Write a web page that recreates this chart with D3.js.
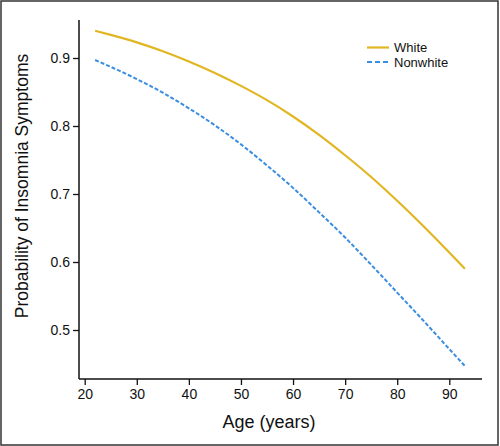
<!DOCTYPE html>
<html>
<head>
<meta charset="utf-8">
<script src="https://cdn.jsdelivr.net/npm/d3@7"></script>
<style>
html,body{margin:0;padding:0;background:#fff;}
svg{display:block;font-family:"Liberation Sans",Arial,Helvetica,sans-serif;}
</style>
</head>
<body>
<svg id="chart" width="500" height="446"></svg>
<script>
const ages = [22,25,30,35,40,45,50,55,60,65,70,75,80,85,90,93];
const whiteValues = [0.940,0.934,0.923,0.910,0.895,0.878,0.859,0.838,0.814,0.787,0.757,0.725,0.690,0.653,0.614,0.590];
const nonwhiteValues = [0.897,0.887,0.869,0.849,0.826,0.801,0.773,0.742,0.709,0.673,0.636,0.596,0.555,0.514,0.472,0.447];
const xTicks = [20,30,40,50,60,70,80,90];
const yTicks = [0.5,0.6,0.7,0.8,0.9];
const seriesNames = ["White","Nonwhite"];

const svg = d3.select("#chart");
svg.append("rect").attr("x",1).attr("y",1).attr("width",497).attr("height",444)
  .attr("fill","#fff").attr("stroke","#333").attr("stroke-width",1.5);

const x = d3.scaleLinear().domain([20,90]).range([84.7,449.3]);
const y = d3.scaleLinear().domain([0.5,0.9]).range([330,58]);
const xAxisY = 379, yAxisX = 79;

svg.append("line").attr("x1",yAxisX).attr("x2",yAxisX).attr("y1",20).attr("y2",xAxisY)
  .attr("stroke","#111").attr("stroke-width",1.5);
svg.append("line").attr("x1",yAxisX).attr("x2",482).attr("y1",xAxisY).attr("y2",xAxisY)
  .attr("stroke","#111").attr("stroke-width",1.5);

const xa = svg.append("g").attr("transform",`translate(0,${xAxisY})`)
  .call(d3.axisBottom(x).tickValues(xTicks).tickSize(6).tickPadding(4).tickFormat(d3.format("d")));
const ya = svg.append("g").attr("transform",`translate(${yAxisX},0)`)
  .call(d3.axisLeft(y).tickValues(yTicks).tickSize(6).tickPadding(3).tickFormat(d3.format(".1f")));
[xa,ya].forEach(g=>{
  g.select(".domain").remove();
  g.selectAll(".tick line").attr("stroke","#111").attr("stroke-width",1.3);
  g.selectAll(".tick text").attr("fill","#111").style("font-size","14px")
   .style("font-family","'Liberation Sans',Arial,sans-serif");
});

const line = d3.line().x((d,i)=>x(ages[i])).y(d=>y(d)).curve(d3.curveMonotoneX);
svg.append("path").datum(whiteValues).attr("d",line).attr("fill","none")
  .attr("stroke","#E2B622").attr("stroke-width",2.2);
svg.append("path").datum(nonwhiteValues).attr("d",line).attr("fill","none")
  .attr("stroke","#3A8EE2").attr("stroke-width",2).attr("stroke-dasharray","4,2");

const leg = svg.append("g");
const legItems = [{name:seriesNames[0],color:"#E2B622",dash:null,w:2.2},{name:seriesNames[1],color:"#3A8EE2",dash:"5,3",w:2}];
legItems.forEach((it,i)=>{
  const ly = 47.5 + i*14.5;
  leg.append("line").attr("x1",367).attr("x2",389).attr("y1",ly).attr("y2",ly)
    .attr("stroke",it.color).attr("stroke-width",it.w).attr("stroke-dasharray",it.dash);
  leg.append("text").attr("x",394).attr("y",ly+4.5).text(it.name)
    .style("font-size","13px").attr("fill","#111");
});

svg.append("text").attr("x",269).attr("y",428).attr("text-anchor","middle")
  .style("font-size","18px").attr("fill","#111").text("Age (years)");
svg.append("text").attr("transform","translate(28,186) rotate(-90)").attr("text-anchor","middle")
  .style("font-size","17.5px").attr("fill","#111").text("Probability of Insomnia Symptoms");
</script>
</body>
</html>
